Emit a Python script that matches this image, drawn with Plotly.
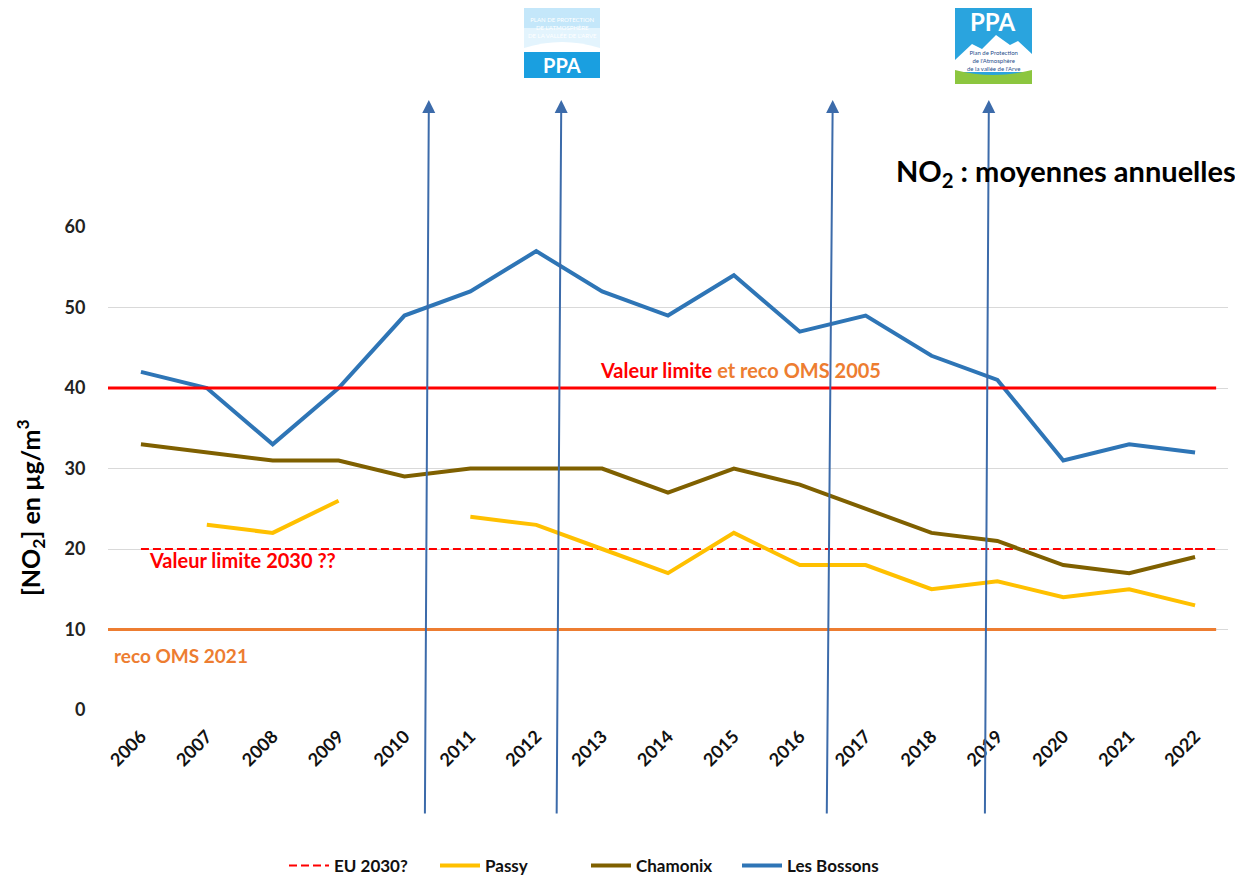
import plotly.graph_objects as go

years = [str(y) for y in range(2006, 2023)]
les_bossons = [42, 40, 33, 40, 49, 52, 57, 52, 49, 54, 47, 49, 44, 41, 31, 33, 32]
chamonix = [33, 32, 31, 31, 29, 30, 30, 30, 27, 30, 28, 25, 22, 21, 18, 17, 19]
passy = [None, 23, 22, 26, None, 24, 23, 20, 17, 22, 18, 18, 15, 16, 14, 15, 13]
eu_2030 = [20] * len(years)
limit_2005 = 40
oms_2021 = 10
# PPA plan milestones (category index positions of arrows: head, tail)
arrow_top = [4.37, 6.38, 10.50, 12.87]
arrow_bottom = [4.31, 6.31, 10.41, 12.81]

FONT = "Lato"
OFF = 8  # page body margin
FIG_W, FIG_H = 1243 - OFF, 875 - OFF
L, T = 108 - OFF, 227 - OFF
W, H = 1120, 483
R = FIG_W - L - W
B = FIG_H - T - H
NCAT = len(years)


def px(x):
    # screen pixel x -> paper
    return (x - OFF - L) / W


def py(y):
    # screen pixel y -> paper
    return (T + H + OFF - y) / H


def cat_paper(i):
    return (i + 0.5) / NCAT


fig = go.Figure()
fig.add_trace(go.Scatter(x=years, y=eu_2030, name="EU 2030?", mode="lines",
                         line=dict(color="#FF0000", width=2, dash="8px,4px")))
fig.add_trace(go.Scatter(x=years, y=passy, name="Passy", mode="lines",
                         line=dict(color="#FFC000", width=4)))
fig.add_trace(go.Scatter(x=years, y=chamonix, name="Chamonix", mode="lines",
                         line=dict(color="#7F6000", width=4)))
fig.add_trace(go.Scatter(x=years, y=les_bossons, name="Les Bossons", mode="lines",
                         line=dict(color="#2E75B6", width=4)))

shapes = [
    dict(type="line", xref="x", yref="y", x0=-0.53, x1=16.32, y0=limit_2005, y1=limit_2005,
         line=dict(color="#FF0000", width=3), layer="above"),
    dict(type="line", xref="x", yref="y", x0=-0.53, x1=16.32, y0=oms_2021, y1=oms_2021,
         line=dict(color="#ED7D31", width=3), layer="above"),
    dict(type="line", xref="x", yref="y", x0=16, x1=16.32, y0=eu_2030[-1], y1=eu_2030[-1],
         line=dict(color="#FF0000", width=2, dash="8px,4px"), layer="above"),
]

# Logo 1 (old PPA)
shapes += [
    dict(type="rect", xref="paper", yref="paper", x0=px(524), x1=px(600), y0=py(78), y1=py(8),
         fillcolor="#C4E7FA", line=dict(width=0), layer="above"),
    dict(type="rect", xref="paper", yref="paper", x0=px(524), x1=px(600), y0=py(50), y1=py(28),
         fillcolor="#E3F4FD", line=dict(width=0), layer="above"),
    dict(type="path", xref="paper", yref="paper",
         path=f"M {px(524)},{py(48)} Q {px(562)},{py(36)} {px(600)},{py(48)} L {px(600)},{py(53)} L {px(524)},{py(53)} Z",
         fillcolor="#FFFFFF", line=dict(width=0), layer="above"),
    dict(type="rect", xref="paper", yref="paper", x0=px(524), x1=px(600), y0=py(78), y1=py(52),
         fillcolor="#1A9FE0", line=dict(width=0), layer="above"),
]
# Logo 2 (new PPA)
shapes += [
    dict(type="rect", xref="paper", yref="paper", x0=px(955), x1=px(1032), y0=py(84), y1=py(5),
         fillcolor="#2AA4DE", line=dict(width=0), layer="above"),
    dict(type="path", xref="paper", yref="paper",
         path=(f"M {px(955)},{py(60)} L {px(972)},{py(44)} L {px(982)},{py(49)} L {px(996)},{py(35)} "
               f"L {px(1010)},{py(45)} L {px(1018)},{py(41)} L {px(1032)},{py(54)} L {px(1032)},{py(72)} "
               f"L {px(955)},{py(72)} Z"),
         fillcolor="#FFFFFF", line=dict(width=0), layer="above"),
    dict(type="path", xref="paper", yref="paper",
         path=f"M {px(955)},{py(70)} Q {px(993)},{py(80)} {px(1032)},{py(70)} L {px(1032)},{py(84)} L {px(955)},{py(84)} Z",
         fillcolor="#8CC63F", line=dict(width=0), layer="above"),
]

annotations = []
for xt, xb in zip(arrow_top, arrow_bottom):
    annotations.append(dict(x=cat_paper(xt), y=py(100), xref="paper", yref="paper",
                            axref="pixel", ayref="pixel",
                            ax=(xb - xt) * W / NCAT, ay=815 - 100,
                            text="", showarrow=True,
                            arrowhead=2, arrowsize=1.3, arrowwidth=2, arrowcolor="#3C6BAA",
                            standoff=0, startstandoff=0))

annotations += [
    dict(x=6.94, y=42.2, xref="x", yref="y", xanchor="left", yanchor="middle", showarrow=False,
         text="<span style='color:#FF0000'>Valeur limite</span> et reco OMS 2005",
         font=dict(family=FONT, size=20, color="#ED7D31", weight="bold")),
    dict(x=0.09, y=18.6, xref="x", yref="y", xanchor="left", yanchor="middle", showarrow=False,
         text="Valeur limite 2030 ??", font=dict(family=FONT, size=20, color="#FF0000", weight="bold")),
    dict(x=-0.44, y=6.8, xref="x", yref="y", xanchor="left", yanchor="middle", showarrow=False,
         text="reco OMS 2021", font=dict(family=FONT, size=19, color="#ED7D31", weight="bold")),
    dict(x=px(1238), y=py(172), xref="paper", yref="paper", xanchor="right", yanchor="middle",
         showarrow=False, text="NO<sub>2</sub> : moyennes annuelles",
         font=dict(family=FONT, size=29, color="#000000", weight="bold")),
    dict(x=px(30), y=py(508), xref="paper", yref="paper", xanchor="center", yanchor="middle",
         showarrow=False, textangle=-90, text="[NO<sub>2</sub>] en µg/m<sup>3</sup>",
         font=dict(family=FONT, size=25, color="#000000", weight="bold")),
    # logo texts
    dict(x=px(562), y=py(65), xref="paper", yref="paper", xanchor="center", yanchor="middle",
         showarrow=False, text="PPA",
         font=dict(family=FONT, size=20, color="#FFFFFF", weight="bold")),
    dict(x=px(562), y=py(27), xref="paper", yref="paper", xanchor="center", yanchor="middle",
         showarrow=False,
         text="PLAN DE PROTECTION<br>DE L'ATMOSPHÈRE<br>DE LA VALLÉE DE L'ARVE",
         font=dict(family=FONT, size=6, color="#FFFFFF")),
    dict(x=px(993), y=py(21), xref="paper", yref="paper", xanchor="center", yanchor="middle",
         showarrow=False, text="PPA",
         font=dict(family=FONT, size=24, color="#FFFFFF", weight="bold")),
    dict(x=px(993), y=py(60), xref="paper", yref="paper", xanchor="center", yanchor="middle",
         showarrow=False,
         text="Plan de Protection<br>de l'Atmosphère<br>de la vallée de l'Arve",
         font=dict(family=FONT, size=6, color="#1F4E8C")),
]

fig.update_layout(
    width=FIG_W, height=FIG_H,
    margin=dict(l=L, r=R, t=T, b=B, autoexpand=False),
    paper_bgcolor="white", plot_bgcolor="white",
    font=dict(family=FONT, color="#222222"),
    shapes=shapes, annotations=annotations,
    showlegend=True,
    legend=dict(orientation="h", x=px(284), xanchor="left", y=py(866), yanchor="middle",
                font=dict(family=FONT, size=17, color="#111111", weight="bold"),
                entrywidth=96, entrywidthmode="pixels", itemwidth=40,
                bgcolor="rgba(0,0,0,0)"),
)
fig.update_xaxes(type="category", range=[-0.5, 16.5], showgrid=False, zeroline=False, showline=False,
                 automargin=False,
                 tickangle=-45, ticks="outside", ticklen=8, tickcolor="rgba(0,0,0,0)",
                 tickfont=dict(family=FONT, size=18, color="#111111", weight="bold"))
fig.update_yaxes(range=[0, 60], dtick=10, showgrid=True, gridcolor="#D9D9D9", gridwidth=1,
                 automargin=False,
                 zeroline=False, showline=False, ticks="outside", ticklen=18,
                 tickcolor="rgba(0,0,0,0)",
                 tickfont=dict(family=FONT, size=18, color="#222222", weight="bold"))

fig.write_html("out.html")
